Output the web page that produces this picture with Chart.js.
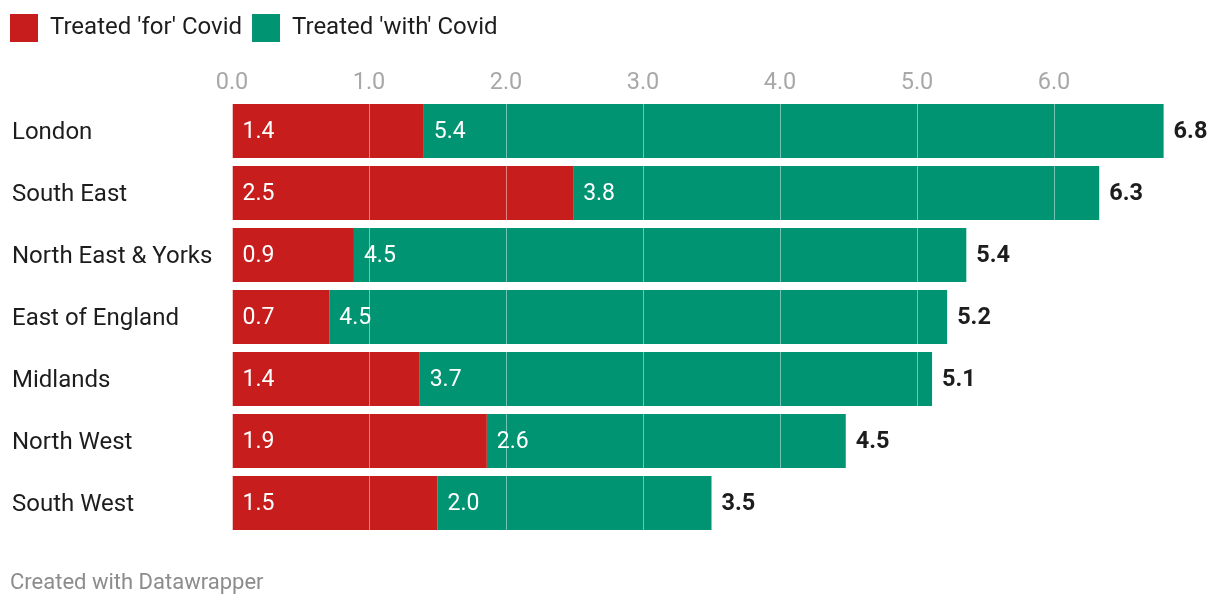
<!DOCTYPE html>
<html>
<head>
<meta charset="utf-8">
<script src="https://cdn.jsdelivr.net/npm/chart.js@4.4.1/dist/chart.umd.min.js"></script>
<style>
  html, body { margin: 0; padding: 0; background: #fff; }
  #wrap { position: relative; width: 1220px; height: 608px; }
  #footer { position: absolute; left: 10px; top: 570px; font-family: Roboto, sans-serif; font-size: 22px; line-height: 24px; color: #8c8c8c; }
</style>
</head>
<body>
<div id="wrap">
  <canvas id="c" width="1220" height="608"></canvas>
  <div id="footer">Created with Datawrapper</div>
</div>
<script>
const categories = ['London', 'South East', 'North East & Yorks', 'East of England', 'Midlands', 'North West', 'South West'];
const seriesNames = ["Treated 'for' Covid", "Treated 'with' Covid"];
const treatedFor = [1.40, 2.49, 0.89, 0.71, 1.37, 1.86, 1.50];
const treatedWith = [5.40, 3.84, 4.47, 4.51, 3.74, 2.62, 2.00];
const tickValues = [0, 1, 2, 3, 4, 5, 6];
const colors = ['#c71e1d', '#009473'];

const FONT = 'Roboto, sans-serif';

const labelPlugin = {
  id: 'segLabels',
  afterDatasetsDraw(chart) {
    const ctx = chart.ctx;
    ctx.save();
    ctx.textBaseline = 'middle';
    ctx.textAlign = 'left';
    chart.data.datasets.forEach((ds, di) => {
      const meta = chart.getDatasetMeta(di);
      meta.data.forEach((bar, j) => {
        ctx.font = '400 23px ' + FONT;
        ctx.fillStyle = '#ffffff';
        ctx.fillText(ds.data[j].toFixed(1), bar.base + 10, bar.y + 1.5);
      });
    });
    const last = chart.getDatasetMeta(chart.data.datasets.length - 1);
    last.data.forEach((bar, j) => {
      const total = treatedFor[j] + treatedWith[j];
      ctx.font = '700 23.5px ' + FONT;
      ctx.fillStyle = '#1d1d1d';
      ctx.fillText(total.toFixed(1), bar.x + 10, bar.y + 1);
    });
    ctx.restore();
  }
};

const yShift = {
  id: 'yShift',
  afterLayout(chart) {
    chart.scales.y.left = 12;
  }
};

new Chart(document.getElementById('c'), {
  type: 'bar',
  data: {
    labels: categories,
    datasets: [
      { label: seriesNames[0], data: treatedFor, backgroundColor: colors[0], borderWidth: 0 },
      { label: seriesNames[1], data: treatedWith, backgroundColor: colors[1], borderWidth: 0 }
    ]
  },
  options: {
    indexAxis: 'y',
    responsive: false,
    animation: false,
    layout: { padding: { top: 4, left: 0, right: 42.7, bottom: 74 } },
    datasets: { bar: { barPercentage: 1, categoryPercentage: 54 / 62 } },
    scales: {
      x: {
        position: 'top',
        stacked: true,
        min: 0,
        max: 6.9,
        afterFit(scale) { scale.height = 48; },
        afterBuildTicks(scale) { scale.ticks = tickValues.map(v => ({ value: v })); },
        ticks: {
          stepSize: 1,
          includeBounds: false,
          padding: 3,
          color: '#a8a8a8',
          font: { family: FONT, size: 23.5 },
          callback: v => Number(v).toFixed(1)
        },
        grid: { z: 1, color: 'rgba(255,255,255,0.45)', lineWidth: 1, drawTicks: false },
        border: { display: false }
      },
      y: {
        stacked: true,
        afterFit(scale) { scale.width = 232; },
        ticks: {
          crossAlign: 'far',
          padding: 0,
          color: '#1d1d1d',
          font: { family: FONT, size: 24, lineHeight: '4px' },
          callback: function (v) { return ['', this.getLabelForValue(v)]; }
        },
        grid: { display: false, drawTicks: false },
        border: { display: false }
      }
    },
    plugins: {
      legend: {
        position: 'top',
        align: 'start',
        labels: {
          boxWidth: 28,
          boxHeight: 28,
          padding: 10,
          color: '#1d1d1d',
          font: { family: FONT, size: 24 }
        }
      },
      tooltip: { enabled: false }
    }
  },
  plugins: [labelPlugin, yShift]
});
</script>
</body>
</html>
